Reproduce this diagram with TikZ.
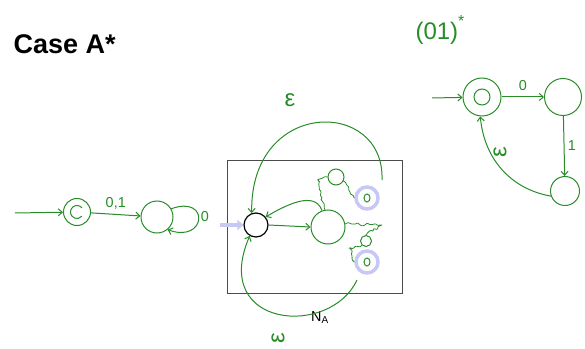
\documentclass[tikz,border=0pt]{standalone}
\usepackage{fontspec}
\setmainfont{Liberation Sans}
\usetikzlibrary{arrows.meta, decorations.pathmorphing}
\definecolor{inkgreen}{RGB}{40,140,40}
\definecolor{hilite}{RGB}{200,200,245}
\tikzset{
  ink/.style={draw=inkgreen, line width=1pt},
  inkarrow/.style={inkgreen, line width=1pt, -{Straight Barb[length=4pt,width=7pt]}},
  inklabel/.style={text=inkgreen, font=\Large},
  epslabel/.style={text=inkgreen, font=\fontsize{24}{26}\selectfont},
  state/.style={circle, draw=inkgreen, line width=1pt, minimum size=#1, inner sep=0pt},
  final/.style={circle, draw=hilite, line width=3.5pt, minimum size=22pt, inner sep=0pt},
  wiggle/.style={inkgreen, line width=0.8pt, decorate,
    decoration={random steps, segment length=2.5pt, amplitude=1.6pt}, rounded corners=0.8pt},
}
\pgfmathsetseed{7}
\begin{document}
\begin{tikzpicture}[x=1pt, y=1pt]
    \useasboundingbox (0,0) rectangle (585,348);

    % title
    \node[anchor=west, font=\bfseries\fontsize{27}{30}\selectfont] (title) at (10,304) {Case A*};

    % left automaton
    \coordinate (lstart) at (15,135);
    \node[state=27pt] (l0) at (77,136) {};
    \draw[ink] (l0.center) ++(40:6.5pt) arc (40:320:6.5pt);
    \node[state=32pt] (l1) at (157,131) {};
    \draw[inkarrow] (lstart) -- (l0);
    \draw[inkarrow] (l0) -- node[inklabel, above, yshift=1pt] {0,1} (l1);
    \draw[inkarrow] (l1.30) to[out=20, in=-20, looseness=5] (l1.-50);
    \node[inklabel] (loop0) at (205,131) {0};

    % the box N_A
    \node[draw=black!70, line width=0.8pt, minimum width=175pt, minimum height=133pt,
      inner sep=0pt] (box) at (314.5,121.5) {};
    \node[font=\Large, anchor=north] (na) at (320,40) {N$_\mathrm{A}$};

    \node[circle, draw=black, line width=1.2pt, minimum size=24pt, inner sep=0pt] (s) at (256,123) {};
    \coordinate (sin) at (220,123);
    \draw[hilite, line width=3.5pt, -{Triangle[length=6pt,width=10pt]}] (sin) -- (s.west);

    \node[state=34pt] (q) at (328,121) {};
    \node[state=16pt] (u) at (336,171) {};
    \node[state=11pt] (v) at (366,107) {};
    \node[final] (f1) at (367,150) {};
    \node[final] (f2) at (367,86) {};
    \draw[ink] (f1) ellipse (3pt and 4pt);
    \draw[ink] (f2) ellipse (3pt and 4pt);

    \draw[inkarrow] (s.east) -- (q.west);
    \draw[inkarrow] (q.110) to[out=110, in=30] (s.40);
    \draw[wiggle] (q.100) -- (322,150) -- (318,168) -- (u.west);
    \draw[wiggle] (u.-30) -- (f1.west);
    \draw[wiggle] (q.10) -- (352,124) -- (382,123) -- (v.north);
    \draw[wiggle] (v.south west) -- (350,100) -- (352,92) -- (f2.west);

    % epsilon arcs
    \coordinate (etop) at (382,168);
    \coordinate (ebot) at (357,68);
    \draw[inkarrow] (etop) .. controls (385,250) and (250,250) .. (s.110);
    \node[epslabel] (eps1) at (290,248) {ε};
    \draw[inkarrow] (ebot) .. controls (330,10) and (210,20) .. (s.-120);
    \node[epslabel, rotate=90] (eps2) at (278,10) {ε};

    % right automaton
    \node[text=inkgreen, font=\fontsize{24}{26}\selectfont] (re) at (440,318) {(01)\raisebox{1ex}{\fontsize{16}{18}\selectfont *}};
    \coordinate (rstart) at (432,250);
    \node[state=38pt] (r0) at (482,251) {};
    \draw[ink] (r0) circle (8pt);
    \node[state=37pt] (r1) at (563,251) {};
    \node[state=29pt] (r2) at (565,157) {};
    \draw[inkarrow] (rstart) -- (r0);
    \draw[inkarrow] (r0) -- node[inklabel, above, yshift=3pt] {0} (r1);
    \draw[inkarrow] (r1) -- node[inklabel, right] {1} (r2);
    \draw[inkarrow] (r2.-160) to[out=170, in=-85] (r0.-95);
    \node[epslabel, rotate=90] (eps3) at (500,196) {ε};
\end{tikzpicture}
\end{document}
